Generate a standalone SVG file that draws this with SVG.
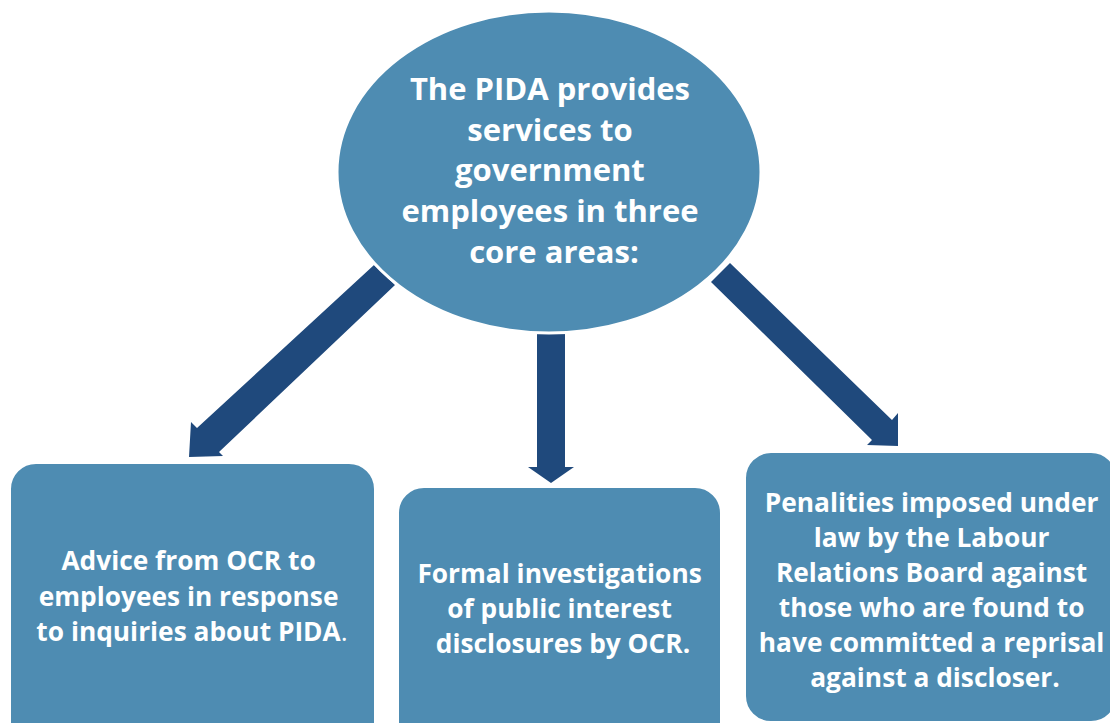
<svg xmlns="http://www.w3.org/2000/svg" width="1110" height="723" viewBox="0 0 1110 723">
  <style>
    .box { fill: #4e8cb2; stroke: #ffffff; stroke-width: 2; }
    .arrow { fill: #1f497c; }
    .label { font-family: "Open Sans", "Liberation Sans", sans-serif; font-weight: 700; fill: #ffffff; text-anchor: middle; }
    .hub { font-size: 31px; }
    .leaf { font-size: 26.3px; }
  </style>
  <rect width="1110" height="723" fill="#ffffff"/>

  <!-- connectors: block arrows from the hub to each service box -->
  <g id="connectors">
    <polygon class="arrow" points="374,265 395,285 219,452 223,456 189,457 191,422 197,428"/>
    <polygon class="arrow" points="537,320 565,320 565,467 574,467 551,483 528,467 537,467"/>
    <polygon class="arrow" points="730,263 892,420 898,413 898,446 867,445 872,440 711,282"/>
  </g>

  <!-- central hub -->
  <g id="hub">
    <ellipse cx="549" cy="172" rx="212" ry="161" fill="#4e8cb2" stroke="#ffffff" stroke-width="3"/>
    <text class="label hub">
      <tspan x="554" y="100">The PIDA provides</tspan>
      <tspan x="554" y="141">services to</tspan>
      <tspan x="554" y="181">government</tspan>
      <tspan x="554" y="222">employees in three</tspan>
      <tspan x="554" y="263">core areas:</tspan>
    </text>
  </g>

  <!-- service: advice -->
  <g id="advice">
    <rect class="box" x="10" y="463" width="365" height="290" rx="26"/>
    <text class="label leaf">
      <tspan x="192" y="570">Advice from OCR to</tspan>
      <tspan x="192" y="606">employees in response</tspan>
      <tspan x="192" y="641">to inquiries about PIDA<tspan font-weight="400">.</tspan></tspan>
    </text>
  </g>

  <!-- service: investigations -->
  <g id="investigations">
    <rect class="box" x="398" y="487" width="323" height="270" rx="26"/>
    <text class="label leaf">
      <tspan x="563" y="583">Formal investigations</tspan>
      <tspan x="563" y="618">of public interest</tspan>
      <tspan x="563" y="653">disclosures by OCR.</tspan>
    </text>
  </g>

  <!-- service: penalties -->
  <g id="penalties">
    <rect class="box" x="745" y="452" width="372" height="270" rx="26"/>
    <text class="label leaf">
      <tspan x="935" y="512">Penalities imposed under</tspan>
      <tspan x="935" y="547">law by the Labour</tspan>
      <tspan x="935" y="582">Relations Board against</tspan>
      <tspan x="935" y="617">those who are found to</tspan>
      <tspan x="935" y="652">have committed a reprisal</tspan>
      <tspan x="935" y="687">against a discloser.</tspan>
    </text>
  </g>
</svg>
